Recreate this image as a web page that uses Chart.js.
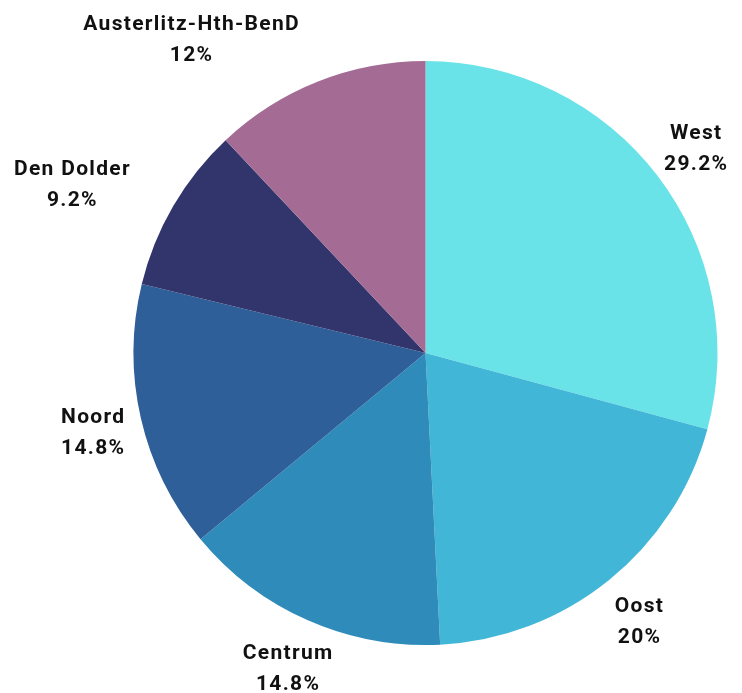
<!DOCTYPE html>
<html>
<head>
<meta charset="utf-8">
<script src="https://cdn.jsdelivr.net/npm/chart.js@4/dist/chart.umd.min.js"></script>
<style>
  html, body { margin: 0; padding: 0; background: #ffffff; }
  #wrap { width: 742px; height: 693px; position: relative; }
</style>
</head>
<body>
<div id="wrap"><canvas id="myChart"></canvas></div>
<script>
// Districts and their share (percent)
var districts = ['West', 'Oost', 'Centrum', 'Noord', 'Den Dolder', 'Austerlitz-Hth-BenD'];
var shares = [29.2, 20, 14.8, 14.8, 9.2, 12];
var shareLabels = ['29.2%', '20%', '14.8%', '14.8%', '9.2%', '12%'];
var sliceColors = ['#6ae3e8', '#42b6d6', '#2e8bba', '#2e5f99', '#32356c', '#a46c94'];

// Draws the two-line labels outside each slice
var outsideLabels = {
    id: 'outsideLabels',
    afterDatasetsDraw: function(chart) {
        var ctx = chart.ctx;
        var meta = chart.getDatasetMeta(0);
        var lineGap = 31;
        var pad = 2;
        ctx.save();
        ctx.font = 'bold 21px Roboto, "DejaVu Sans", sans-serif';
        if ('letterSpacing' in ctx) ctx.letterSpacing = '1.3px';
        ctx.fillStyle = '#111111';
        ctx.textAlign = 'center';
        ctx.textBaseline = 'middle';
        meta.data.forEach(function(arc, i) {
            var p = arc.getProps(['x', 'y', 'startAngle', 'endAngle', 'outerRadius'], true);
            var mid = (p.startAngle + p.endAngle) / 2;
            var r = p.outerRadius + 49;
            var ax = p.x + Math.cos(mid) * r;
            var ay = p.y + Math.sin(mid) * r;
            var lines = [districts[i], shareLabels[i]];
            var w = Math.max(ctx.measureText(lines[0]).width, ctx.measureText(lines[1]).width);
            var h = lineGap + 20;
            var cx = ax;
            // nearest point of the box to the pie centre
            var nx = Math.max(cx - w / 2, Math.min(p.x, cx + w / 2));
            var ny = Math.max(ay - h / 2, Math.min(p.y, ay + h / 2));
            var d = Math.hypot(nx - p.x, ny - p.y);
            if (d < p.outerRadius + pad) {
                // push the box sideways so its inner edge sits on the anchor
                cx = ax + (Math.cos(mid) < 0 ? -w / 2 : w / 2);
            }
            ctx.fillText(lines[0], cx, ay - lineGap / 2 + 4);
            ctx.fillText(lines[1], cx, ay + lineGap / 2 + 4);
        });
        ctx.restore();
    }
};

var ctx = document.getElementById('myChart').getContext('2d');

var myChart = new Chart(ctx, {
    type: 'pie',
    data: {
        labels: districts,
        datasets: [{
            data: shares,
            backgroundColor: sliceColors,
            borderWidth: 0
        }]
    },
    options: {
        responsive: true,
        maintainAspectRatio: false,
        animation: false,
        layout: {
            padding: { left: 133, right: 24, top: 61, bottom: 48 }
        },
        plugins: {
            legend: { display: false },
            tooltip: { enabled: false }
        }
    },
    plugins: [outsideLabels]
});
</script>
</body>
</html>
